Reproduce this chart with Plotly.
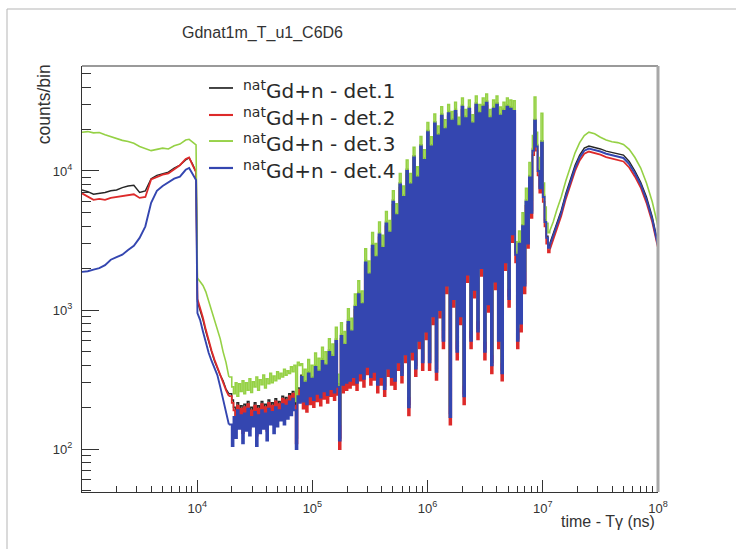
import numpy as np
import plotly.graph_objects as go

# Bin centres as log10(time - T_gamma / ns)
log_time = [
    # 1e3 .. 1e4
    3.00, 3.05, 3.10, 3.15, 3.20, 3.25, 3.30, 3.35, 3.40, 3.45, 3.50,
    3.55, 3.60, 3.65, 3.70, 3.75, 3.80, 3.85, 3.90, 3.93, 3.96, 3.99,
    # fall-off after 1e4
    4.002, 4.025, 4.050, 4.075, 4.100, 4.125, 4.150, 4.175, 4.200, 4.225,
    4.250, 4.275,
    # flat background 2e4 .. 8e4
    4.300, 4.315, 4.330, 4.345, 4.360, 4.375, 4.390, 4.405, 4.420, 4.435,
    4.450, 4.465, 4.480, 4.495, 4.510, 4.525, 4.540, 4.555, 4.570, 4.585,
    4.600, 4.615, 4.630, 4.645, 4.660, 4.675, 4.690, 4.705, 4.720, 4.735,
    4.750, 4.765, 4.780, 4.795, 4.810, 4.825, 4.840, 4.855, 4.870, 4.885,
    # resolved resonance region
    4.900, 4.915, 4.930, 4.945, 4.960, 4.975, 4.990, 5.005, 5.020, 5.035,
    5.050, 5.065, 5.080, 5.095, 5.110, 5.125, 5.140, 5.155, 5.170, 5.185,
    5.200, 5.215, 5.230, 5.245, 5.260, 5.275, 5.290, 5.305, 5.320, 5.335,
    5.350, 5.365, 5.380, 5.395, 5.410, 5.425, 5.440, 5.455, 5.470, 5.485,
    5.500, 5.515, 5.530, 5.545, 5.560, 5.575, 5.590, 5.605, 5.620, 5.635,
    5.650, 5.665, 5.680, 5.695, 5.710, 5.725, 5.740, 5.755, 5.770, 5.785,
    5.800, 5.815, 5.830, 5.845, 5.860, 5.875, 5.890, 5.905, 5.920, 5.935,
    5.950, 5.965, 5.980, 5.995, 6.010, 6.025, 6.040, 6.055, 6.070, 6.085,
    6.100, 6.115, 6.130, 6.145, 6.160, 6.175, 6.190, 6.205, 6.220, 6.235,
    6.250, 6.265, 6.280, 6.295, 6.310, 6.325, 6.340, 6.355, 6.370, 6.385,
    6.400, 6.415, 6.430, 6.445, 6.460, 6.475, 6.490, 6.505, 6.520, 6.535,
    6.550, 6.565, 6.580, 6.595, 6.610, 6.625, 6.640, 6.655, 6.670, 6.685,
    6.700, 6.715, 6.730,
    # low-energy resonances around 1e7 ns
    6.745, 6.760, 6.775, 6.790, 6.805, 6.820, 6.835, 6.850, 6.865, 6.880,
    6.895, 6.910, 6.925, 6.940, 6.955, 6.970, 6.985, 7.000, 7.015, 7.030,
    7.045,
    # thermal hump
    7.06, 7.09, 7.12, 7.16, 7.20, 7.24, 7.28, 7.32, 7.36, 7.40, 7.45,
    7.50, 7.55, 7.60, 7.65, 7.70, 7.75, 7.80, 7.85, 7.90, 7.95, 8.00,
]

det1 = [
    7300, 7100, 6800, 6900, 7000, 7200, 7300, 7600, 7800, 7900, 7000,
    7200, 8800, 9300, 9600, 9800, 10500, 11000, 12000, 12400, 11200, 9800,
    1150, 1000, 850, 700, 580, 500, 430, 380, 340, 310, 270, 250,
    225, 200, 150, 215, 165, 205, 140, 210, 160, 220,
    150, 200, 170, 215, 135, 205, 155, 220, 165, 210,
    145, 225, 175, 215, 160, 230, 170, 220, 185, 240,
    175, 235, 190, 250, 200, 260, 215, 120, 275, 250,
    340, 230, 310, 220, 360, 250, 330, 235, 400, 265,
    370, 245, 445, 275, 410, 255, 515, 285, 475, 270,
    620, 295, 120, 670, 305, 575, 315, 845, 325, 720,
    345, 1080, 315, 1340, 365, 1130, 335, 2270, 410, 1850,
    345, 2990, 380, 2470, 305, 3600, 345, 2880, 285, 4330,
    400, 3710, 345, 6180, 325, 4940, 440, 8240, 355, 6700,
    505, 10300, 210, 8240, 525, 12900, 400, 9270, 630, 15450,
    440, 12360, 735, 19570, 440, 15450, 945, 22660, 380, 18540,
    1050, 25750, 630, 20600, 1575, 26780, 180, 23690, 1260, 27810,
    525, 21630, 945, 29870, 250, 24720, 1890, 28840, 630, 22660,
    1470, 30900, 735, 26780, 2100, 29870, 525, 31930, 1155, 24720,
    420, 28840, 1680, 30900, 630, 25750, 370, 27810, 2310, 29870,
    1260, 28840, 3600,
    26500, 2600, 620, 3100, 830, 4100, 1550, 6200, 3100, 9300,
    5200, 14500, 23500, 15500, 10300, 7700, 16500, 6700, 4450, 3400,
    2900,
    3000, 3550, 4200, 5200, 6900, 8700, 11000, 13000, 14600, 15100, 14800,
    14400, 13900, 13600, 13400, 13000, 11700, 10000, 8300, 6500, 4700, 3000,
]

det2 = [
    6900, 6500, 6200, 6300, 6200, 6400, 6500, 6600, 6700, 6800, 6400,
    6500, 8700, 9100, 9400, 9600, 10300, 11000, 12200, 12500, 11000, 9800,
    1200, 1050, 880, 720, 600, 510, 440, 385, 340, 305, 265, 240,
    215, 190, 140, 205, 155, 195, 130, 200, 150, 210,
    140, 190, 160, 205, 125, 195, 145, 210, 155, 200,
    135, 215, 165, 205, 150, 220, 160, 210, 175, 230,
    165, 225, 180, 240, 190, 250, 205, 110, 265, 240,
    315, 195, 285, 185, 330, 210, 305, 200, 370, 220,
    340, 205, 410, 230, 380, 215, 475, 240, 435, 225,
    570, 245, 100, 620, 255, 530, 265, 780, 275, 665,
    290, 1000, 265, 1230, 310, 1050, 280, 2090, 345, 1710,
    290, 2750, 315, 2280, 255, 3330, 290, 2660, 240, 4000,
    335, 3420, 290, 5700, 270, 4560, 370, 7600, 300, 6180,
    420, 9500, 175, 7600, 440, 11900, 335, 8550, 530, 14250,
    370, 11400, 615, 18050, 370, 14250, 790, 20900, 315, 17100,
    880, 23750, 530, 19000, 1320, 24700, 150, 21850, 1055, 25650,
    440, 19950, 790, 27550, 210, 22800, 1585, 26600, 530, 20900,
    1230, 28500, 615, 24700, 1760, 27550, 440, 29450, 970, 22800,
    350, 26600, 1410, 28500, 530, 23750, 310, 25650, 1940, 27550,
    1055, 26600, 3080,
    25650, 2200, 530, 2640, 700, 3700, 1320, 5600, 2800, 8400,
    4600, 13000, 21500, 14000, 9300, 7000, 15000, 6000, 4000, 3000,
    2600,
    2700, 3200, 3800, 4750, 6300, 7900, 10000, 11900, 13300, 13800, 13500,
    13100, 12600, 12300, 12100, 11700, 10600, 9100, 7600, 5900, 4300, 2800,
]

det3 = [
    19000, 19200, 18800, 18900, 18200, 17600, 17000, 16600, 16300, 15800, 15000,
    14500, 14000, 14300, 14600, 14400, 15200, 15600, 16700, 16900, 16200, 15400,
    1700, 1600, 1500, 1350, 1150, 1000, 850, 720, 620, 500, 420, 330,
    280, 250, 300, 240, 295, 260, 310, 250, 300, 265,
    320, 255, 305, 280, 330, 265, 315, 290, 340, 275,
    320, 295, 350, 300, 335, 310, 360, 320, 350, 330,
    375, 340, 365, 350, 390, 360, 400, 220, 420, 400,
    410, 270, 375, 260, 440, 295, 400, 280, 490, 310,
    450, 290, 540, 320, 500, 300, 620, 330, 570, 315,
    750, 345, 150, 810, 355, 700, 370, 1020, 380, 870,
    400, 1300, 370, 1620, 430, 1370, 390, 2750, 480, 2250,
    400, 3600, 440, 3000, 350, 4300, 400, 3450, 330, 5100,
    460, 4400, 400, 7200, 380, 5800, 510, 9600, 410, 7800,
    580, 12000, 240, 9600, 600, 14800, 460, 10700, 720, 17700,
    500, 14200, 830, 22300, 500, 17600, 1070, 25700, 430, 21000,
    1200, 29000, 720, 23300, 1800, 30000, 205, 26700, 1440, 31200,
    600, 24300, 1080, 33500, 290, 27700, 2150, 32300, 720, 25400,
    1680, 34600, 840, 30000, 2400, 33500, 600, 35700, 1320, 27700,
    480, 32300, 1900, 34600, 720, 28800, 420, 31200, 2600, 33500,
    1440, 32300, 4200,
    32000, 3100, 750, 3700, 1000, 5000, 1900, 7500, 3800, 11500,
    6200, 18000, 34000, 19000, 12500, 9500, 26000, 8200, 5500, 4200,
    3600,
    3700, 4300, 5200, 6500, 8500, 10800, 13500, 16000, 18000, 19000, 18500,
    17500, 16700, 16200, 16000, 15500, 14300, 12500, 10500, 8200, 6000, 4000,
]

det4 = [
    1880, 1900, 1950, 2000, 2100, 2300, 2400, 2500, 2700, 2900, 3300,
    4000, 5900, 7200, 7800, 8300, 8800, 9100, 10200, 10500, 9600, 8600,
    950, 850, 700, 580, 490, 430, 380, 340, 280, 230, 180, 150,
    105, 170, 120, 190, 140, 175, 110, 180, 135, 195,
    125, 170, 145, 185, 105, 175, 130, 190, 140, 180,
    115, 195, 150, 185, 130, 200, 145, 190, 160, 210,
    150, 205, 165, 220, 175, 230, 190, 100, 240, 215,
    330, 220, 300, 210, 350, 240, 320, 225, 390, 250,
    360, 235, 430, 260, 400, 245, 500, 270, 460, 255,
    600, 280, 115, 650, 290, 560, 300, 820, 310, 700,
    330, 1050, 300, 1300, 350, 1100, 320, 2200, 390, 1800,
    330, 2900, 360, 2400, 290, 3500, 330, 2800, 270, 4200,
    380, 3600, 330, 6000, 310, 4800, 420, 8000, 340, 6500,
    480, 10000, 200, 8000, 500, 12500, 380, 9000, 600, 15000,
    420, 12000, 700, 19000, 420, 15000, 900, 22000, 360, 18000,
    1000, 25000, 600, 20000, 1500, 26000, 170, 23000, 1200, 27000,
    500, 21000, 900, 29000, 240, 24000, 1800, 28000, 600, 22000,
    1400, 30000, 700, 26000, 2000, 29000, 500, 31000, 1100, 24000,
    400, 28000, 1600, 30000, 600, 25000, 350, 27000, 2200, 29000,
    1200, 28000, 3500,
    27000, 2500, 600, 3000, 800, 4000, 1500, 6000, 3000, 9000,
    5000, 14000, 23000, 15000, 10000, 7500, 16000, 6500, 4300, 3300,
    2800,
    2900, 3400, 4000, 5000, 6600, 8300, 10500, 12500, 14000, 14500, 14200,
    13800, 13300, 13000, 12800, 12400, 11200, 9600, 8000, 6200, 4500, 2900,
]

labels = [
    "<sup>nat</sup>Gd+n - det.1",
    "<sup>nat</sup>Gd+n - det.2",
    "<sup>nat</sup>Gd+n - det.3",
    "<sup>nat</sup>Gd+n - det.4",
]
colors = ["#262626", "#dd2a2a", "#95d145", "#3446b0"]
widths = [1.4, 1.8, 1.6, 1.9]

x_major = [1e4, 1e5, 1e6, 1e7, 1e8]
x_major_text = ["10<sup>4</sup>", "10<sup>5</sup>", "10<sup>6</sup>",
                "10<sup>7</sup>", "10<sup>8</sup>"]
y_major = [1e2, 1e3, 1e4]
y_major_text = ["10<sup>2</sup>", "10<sup>3</sup>", "10<sup>4</sup>"]

series = [det1, det2, det3, det4]
for s in series:
    assert len(s) == len(log_time), (len(s), len(log_time))

time_ns = 10 ** np.array(log_time)

# The narrow-bin resonance stretch is drawn as a step outline, the
# smooth stretches on either side as plain polylines.
N_SMOOTH_END = 34    # first bin of the flat background
N_RES_END = 219      # first bin of the thermal hump + 1
parts = [
    (slice(0, N_SMOOTH_END), "linear"),
    (slice(N_SMOOTH_END - 1, N_RES_END), "hv"),
    (slice(N_RES_END - 1, None), "linear"),
]

FONT = "Liberation Sans, Arial, Helvetica, sans-serif"
LEG_FONT = "DejaVu Sans, Liberation Sans, sans-serif"
INK = "#333333"

fig = go.Figure()
for name, vals, col, w in zip(labels, series, colors, widths):
    vals = np.asarray(vals, dtype=float)
    for sl, shape in parts:
        fig.add_trace(go.Scatter(
            x=time_ns[sl], y=vals[sl], mode="lines", name=name,
            legendgroup=name, showlegend=False,
            line=dict(color=col, width=w, shape=shape),
        ))

x_minor = [m * 10.0 ** e for e in range(3, 8) for m in range(2, 10)]
y_minor = [m * 10.0 ** e for e in range(1, 5) for m in range(2, 10)]

fig.update_xaxes(
    type="log", range=[3, 8],
    tickmode="array", tickvals=x_major, ticktext=x_major_text,
    ticks="inside", ticklen=12, tickwidth=1, tickcolor=INK,
    minor=dict(tickmode="array", tickvals=x_minor, ticks="inside",
               ticklen=6, tickwidth=1, tickcolor=INK, showgrid=False),
    showline=True, linecolor=INK, linewidth=1,
    showgrid=False, zeroline=False, ticklabelstandoff=4,
    tickfont=dict(family=FONT, size=13, color=INK),
)
fig.update_yaxes(
    type="log", range=[1.691, 4.755],
    tickmode="array", tickvals=y_major, ticktext=y_major_text,
    ticks="inside", ticklen=17, tickwidth=1, tickcolor=INK,
    minor=dict(tickmode="array", tickvals=y_minor, ticks="inside",
               ticklen=9, tickwidth=1, tickcolor=INK, showgrid=False),
    showline=True, linecolor=INK, linewidth=1,
    showgrid=False, zeroline=False, ticklabelstandoff=6,
    tickfont=dict(family=FONT, size=13, color=INK),
)

# Legend drawn as sample lines plus text entries
legend_y = [0.9484, 0.8850, 0.8239, 0.7606]
shapes = [
    # canvas border
    dict(type="rect", xref="paper", yref="paper",
         x0=-0.1302, x1=1.3, y0=-0.3, y1=1.1338,
         line=dict(color="#b5b5b5", width=1), layer="below"),
    # top and right edges of the frame
    dict(type="line", xref="paper", yref="paper",
         x0=0, x1=1, y0=1, y1=1, line=dict(color="#9a9a9a", width=2)),
    dict(type="line", xref="paper", yref="paper",
         x0=1, x1=1, y0=0, y1=1, line=dict(color="#a8a8a8", width=3)),
]
annotations = [
    dict(text="Gdnat1m_T_u1_C6D6", xref="paper", yref="paper",
         x=0.314, y=1.077, xanchor="center", yanchor="middle",
         showarrow=False, font=dict(family=FONT, size=16, color=INK)),
    dict(text="counts/bin", xref="paper", yref="paper",
         x=-0.066, y=1.009, xanchor="center", yanchor="top",
         textangle=-90, showarrow=False,
         font=dict(family=FONT, size=17.5, color=INK)),
    dict(text="time - T\u03b3 (ns)", xref="paper", yref="paper",
         x=0.998, y=-0.0704, xanchor="right", yanchor="middle",
         showarrow=False, font=dict(family=FONT, size=16, color=INK)),
]
for name, col, w, yy in zip(labels, colors, widths, legend_y):
    shapes.append(dict(type="line", xref="paper", yref="paper",
                       x0=0.2205, x1=0.2622, y0=yy, y1=yy,
                       line=dict(color=col, width=w + 0.3)))
    annotations.append(dict(text=name, xref="paper", yref="paper",
                            x=0.276, y=yy - 0.004, xanchor="left",
                            yanchor="middle", showarrow=False,
                            font=dict(family=LEG_FONT, size=20, color="#2a2a2a")))

fig.update_layout(
    width=736, height=549,
    margin=dict(l=82, r=78, t=66, b=57),
    paper_bgcolor="white", plot_bgcolor="white",
    font=dict(family=FONT, color=INK),
    showlegend=False,
    shapes=shapes,
    annotations=annotations,
)

fig.write_html("out.html")
